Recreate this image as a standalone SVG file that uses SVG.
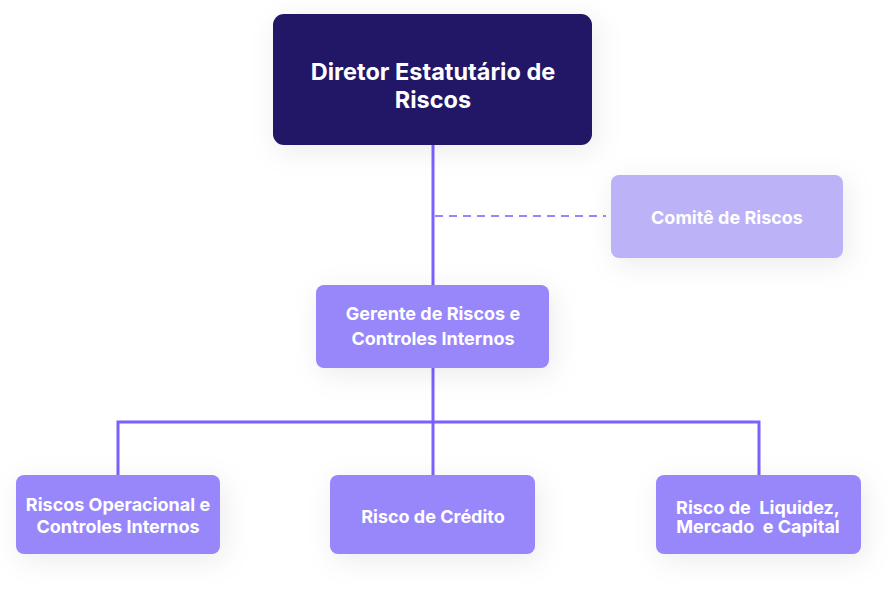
<svg xmlns="http://www.w3.org/2000/svg" width="895" height="596" viewBox="0 0 895 596">
<defs>
<filter id="sh" x="-40%" y="-60%" width="180%" height="220%">
<feDropShadow dx="4" dy="6" stdDeviation="14" flood-color="#000" flood-opacity="0.08"/>
</filter>
</defs>
<style>
.t{font-family:Inter,"Liberation Sans",sans-serif;font-weight:700;fill:#fff;text-anchor:middle}
.big{font-size:23.5px}
.sm{font-size:18px}
.ln{stroke:#7b61ff;stroke-width:3;fill:none}
.dash{stroke:#9a85ff;stroke-width:2;stroke-dasharray:8 6;fill:none}
</style>
<rect width="895" height="596" fill="#fff"/>
<g id="connectors">
<line class="ln" x1="433" y1="145" x2="433" y2="285"/>
<line class="dash" x1="435" y1="216" x2="606" y2="216"/>
<line class="ln" x1="433" y1="368" x2="433" y2="475"/>
<polyline class="ln" points="118,475 118,422 759,422 759,475"/>
</g>
<g id="diretor">
<rect x="273" y="14" width="319" height="131" rx="11" fill="#221266" filter="url(#sh)"/>
<text class="t big" x="433" y="79.5">Diretor Estatutário de</text>
<text class="t big" x="433" y="107.5">Riscos</text>
</g>
<g id="comite">
<rect x="611" y="175" width="232" height="83" rx="8" fill="#bcb2f8" filter="url(#sh)"/>
<text class="t sm" x="727" y="223.5">Comitê de Riscos</text>
</g>
<g id="gerente">
<rect x="316" y="285" width="233" height="83" rx="8" fill="#9887fb" filter="url(#sh)"/>
<text class="t sm" x="433" y="319.5">Gerente de Riscos e</text>
<text class="t sm" x="433" y="344.5">Controles Internos</text>
</g>
<g id="operacional">
<rect x="16" y="475" width="204" height="79" rx="8" fill="#9887fb" filter="url(#sh)"/>
<text class="t sm" x="118" y="510.5">Riscos Operacional e</text>
<text class="t sm" x="118" y="532.5">Controles Internos</text>
</g>
<g id="credito">
<rect x="330" y="475" width="205" height="79" rx="8" fill="#9887fb" filter="url(#sh)"/>
<text class="t sm" x="433" y="522.5">Risco de Crédito</text>
</g>
<g id="liquidez">
<rect x="656" y="475" width="205" height="79" rx="8" fill="#9887fb" filter="url(#sh)"/>
<text class="t sm" x="758" y="513.5" xml:space="preserve">Risco de  Liquidez,</text>
<text class="t sm" x="758" y="532.5" xml:space="preserve">Mercado  e Capital</text>
</g>
</svg>
